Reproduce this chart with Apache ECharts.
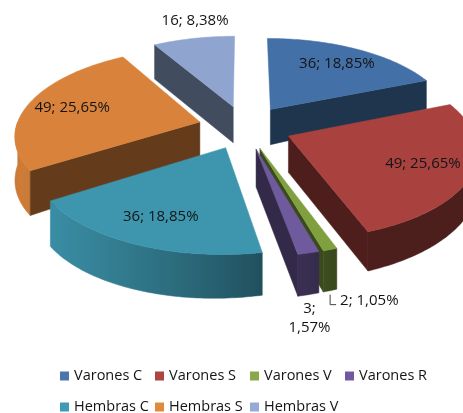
<!DOCTYPE html>
<html><head><meta charset="utf-8">
<script src="https://cdn.jsdelivr.net/npm/echarts@6/dist/echarts.min.js"></script>
<style>html,body{margin:0;padding:0;background:#fff}#c{width:463px;height:413px}</style>
</head><body><div id="c"></div>
<script>
// ---- data ----
const categories = ['Varones C', 'Varones S', 'Varones V', 'Varones R', 'Hembras C', 'Hembras S', 'Hembras V'];
const values = [36, 49, 2, 3, 36, 49, 16];

// ---- style ----
const topColors = ['#4470a8', '#a9423f', '#80a040', '#6e5a9c', '#3d96ae', '#d9823b', '#8fa5cf'];
const legendColors = ['#4a76ae', '#ad4542', '#8aa84a', '#72599f', '#3e9bb3', '#e08a3e', '#95aad4'];
const labelModes = ['inside', 'inside', 'leader', 'below', 'inside', 'inside', 'outside'];

const total = values.reduce((a, b) => a + b, 0);
const starts = [];
let acc = 0;
values.forEach(v => { starts.push(acc); acc += v; });

const CX = 245, CY = 127, RX = 183.7, RY = 85.5, PERSP = 0.14, EXPLODE = 0.255;
const FONT = '"Open Sans", "Liberation Sans", sans-serif';

function proj(X, Z) { const s = 1 / (1 - PERSP * Z); return [CX + RX * X * s, CY + RY * Z * s]; }
function depth(X, Z) { return 37 - 5 * X + 5 * Z; }
function shade(hex, f) {
  const n = parseInt(hex.slice(1), 16);
  const r = Math.round(((n >> 16) & 255) * f), g = Math.round(((n >> 8) & 255) * f), b = Math.round((n & 255) * f);
  return 'rgb(' + r + ',' + g + ',' + b + ')';
}
function wallLight(t) { return 0.45 + 0.5 * Math.max(0, Math.cos(t - 250 * Math.PI / 180)); }

function renderSlice(idx) {
  return function (params, api) {
    const v = api.value(0);
    const a0 = starts[idx] / total * 2 * Math.PI;
    const a1 = (starts[idx] + v) / total * 2 * Math.PI;
    const m = (a0 + a1) / 2;
    const ox = EXPLODE * Math.sin(m), oz = -EXPLODE * Math.cos(m);
    const rim = t => [ox + Math.sin(t), oz - Math.cos(t)];
    const top = W => proj(W[0], W[1]);
    const bot = W => { const p = proj(W[0], W[1]); return [p[0], p[1] + depth(W[0], W[1])]; };
    const col = topColors[idx];
    const children = [];
    // outer wall (front half only), one polygon with horizontal light gradient
    const w0 = Math.max(a0, Math.PI / 2), w1 = Math.min(a1, 1.5 * Math.PI);
    if (w1 > w0) {
      const n = Math.max(2, Math.ceil((w1 - w0) / (Math.PI / 180)));
      const tp = [], bp = [], samples = [];
      for (let k = 0; k <= n; k++) {
        const t = w0 + (w1 - w0) * k / n;
        const W = rim(t);
        tp.push(top(W)); bp.push(bot(W));
        samples.push({ x: top(W)[0], c: shade(col, wallLight(t)) });
      }
      const xs = samples.map(s => s.x);
      const xmin = Math.min.apply(null, xs), xmax = Math.max.apply(null, xs);
      const span = Math.max(1e-6, xmax - xmin);
      const stops = samples.map(s => ({ offset: (s.x - xmin) / span, color: s.c }))
        .sort((a, b) => a.offset - b.offset);
      const grad = { type: 'linear', x: xmin, y: 0, x2: xmin + span, y2: 0, global: true, colorStops: stops };
      children.push({ type: 'polygon', shape: { points: tp.concat(bp.reverse()) },
        style: { fill: grad, stroke: grad, lineWidth: 0.5 } });
    }
    const apex = [ox, oz];
    const radial = t => {
      const R = rim(t), c = shade(col, 0.46);
      return { type: 'polygon', shape: { points: [top(apex), top(R), bot(R), bot(apex)] },
        style: { fill: c, stroke: c, lineWidth: 0.5 } };
    };
    if (Math.sin(a0) < -1e-6) children.push(radial(a0));
    if (Math.sin(a1) > 1e-6) children.push(radial(a1));
    // top face
    const pts = [top(apex)];
    const n = Math.max(2, Math.ceil((a1 - a0) / (Math.PI / 180)));
    for (let k = 0; k <= n; k++) pts.push(top(rim(a0 + (a1 - a0) * k / n)));
    children.push({ type: 'polygon', shape: { points: pts }, style: { fill: col, stroke: col, lineWidth: 0.5 } });
    // label
    const pct = (v / total * 100).toFixed(2).replace('.', ',') + '%';
    const mode = labelModes[idx];
    const tstyle = { fill: '#141414', font: '15px ' + FONT };
    if (mode === 'inside' || mode === 'outside') {
      const r = mode === 'inside' ? 1.0 : 1.45;
      const p = proj(r * Math.sin(m), -r * Math.cos(m));
      const dx = mode === 'inside' ? 0 : 8, dy = mode === 'inside' ? 0 : -6;
      children.push({ type: 'text', x: p[0] + dx, y: p[1] + dy, z2: 50,
        style: Object.assign({ text: v + '; ' + pct, align: 'center', verticalAlign: 'middle' }, tstyle) });
    } else {
      const b = bot(rim(m));
      if (mode === 'leader') {
        children.push({ type: 'polyline', shape: { points: [[b[0], b[1] + 4], [b[0], b[1] + 14], [b[0] + 6, b[1] + 14]] },
          style: { stroke: '#404040', lineWidth: 1, fill: null } });
        children.push({ type: 'text', x: b[0] + 10, y: b[1] + 10, z2: 50,
          style: Object.assign({ text: v + '; ' + pct, align: 'left', verticalAlign: 'middle' }, tstyle) });
      } else {
        children.push({ type: 'text', x: b[0] + 1, y: b[1] + 24, z2: 50,
          style: Object.assign({ text: v + ';\n' + pct, align: 'center', verticalAlign: 'middle', lineHeight: 19 }, tstyle) });
      }
    }
    return { type: 'group', children };
  };
}

// draw order: back to front by mid-angle depth
const midDepth = values.map((v, i) => -Math.cos((starts[i] + v / 2) / total * 2 * Math.PI));
const order = midDepth.map((d, i) => i).sort((a, b) => midDepth[a] - midDepth[b]);
const zOf = [];
order.forEach((i, r) => { zOf[i] = 2 + r; });

const series = categories.map((name, i) => ({
  type: 'custom', name: name, coordinateSystem: 'none', silent: true, animation: false,
  z: zOf[i], itemStyle: { color: legendColors[i] },
  data: [[values[i]]], renderItem: renderSlice(i)
}));

const legendBase = {
  left: 60, orient: 'horizontal', itemWidth: 9, itemHeight: 9, itemGap: 5, icon: 'rect', padding: 0,
  selectedMode: false,
  textStyle: { fontFamily: FONT, fontSize: 14.5, color: '#141414', width: 76, overflow: 'truncate', lineHeight: 16 }
};

const chart = echarts.init(document.getElementById('c'), null, { renderer: 'canvas', width: 463, height: 413 });
chart.setOption({
  animation: false,
  backgroundColor: '#ffffff',
  legend: [
    Object.assign({}, legendBase, { top: 368, data: categories.slice(0, 4) }),
    Object.assign({}, legendBase, { top: 399, data: categories.slice(4) })
  ],
  series: series
});
</script>
</body></html>
